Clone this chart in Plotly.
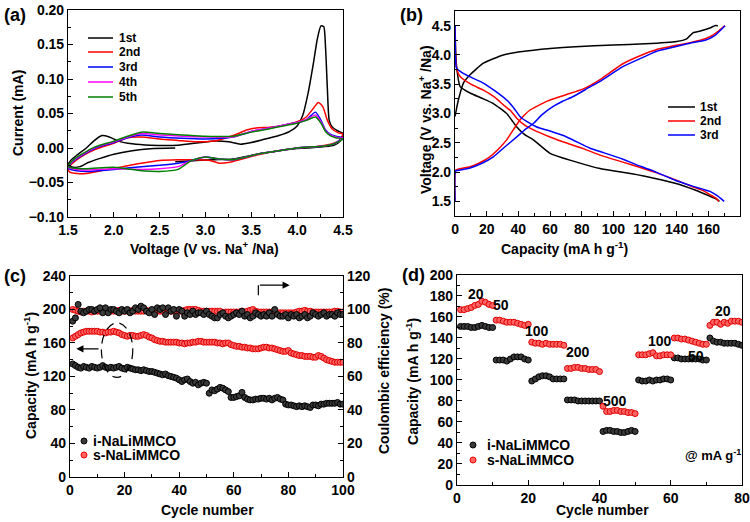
import plotly.graph_objects as go

FONT = "Liberation Sans, Arial, sans-serif"

# ---------------- (a) cyclic voltammetry ----------------
cv_labels = ["1st", "2nd", "3rd", "4th", "5th"]
cv_colors = ["#000000", "#ff0000", "#0000ff", "#ff00ff", "#008000"]

cv1_V = [2.67, 2.4, 2.2, 2.0, 1.85, 1.72, 1.63, 1.56, 1.5, 1.53, 1.6, 1.7, 1.78, 1.87, 1.95, 2.05, 2.2, 2.4, 2.7, 2.95,
         3.1, 3.25, 3.38, 3.5, 3.65, 3.8, 3.92, 4.0, 4.06, 4.12, 4.18, 4.22, 4.26, 4.29, 4.31, 4.33, 4.35, 4.38, 4.44,
         4.5, 4.47, 4.4, 4.3, 4.1, 3.9, 3.6, 3.3, 3.1, 2.9, 2.67]
cv1_I = [0.0, -0.001, -0.004, -0.009, -0.015, -0.021, -0.027, -0.028, -0.025, -0.018, -0.010, 0.000, 0.010, 0.018, 0.016,
         0.010, 0.006, 0.004, 0.004, 0.008, 0.010, 0.009, 0.0055, 0.008, 0.013, 0.018, 0.024, 0.032, 0.047, 0.080, 0.125,
         0.158, 0.177, 0.176, 0.145, 0.085, 0.040, 0.031, 0.025, 0.021, 0.010, 0.004, 0.002, 0.0, -0.002, -0.008,
         -0.016, -0.017, -0.018, -0.02]

cv2_V = [1.5, 1.55, 1.65, 1.8, 2.0, 2.15, 2.3, 2.5, 2.7, 2.9, 3.1, 3.3, 3.45, 3.55, 3.7, 3.85, 4.0, 4.1, 4.18, 4.23,
         4.28, 4.33, 4.38, 4.45, 4.5,
         4.45, 4.35, 4.2, 4.0, 3.8, 3.6, 3.4, 3.25, 3.15, 3.05, 2.9, 2.7, 2.5, 2.3, 2.1, 1.9, 1.7, 1.6, 1.52, 1.5]
cv2_I = [-0.030, -0.022, -0.012, -0.002, 0.007, 0.015, 0.016, 0.013, 0.011, 0.009, 0.010, 0.018, 0.026, 0.029, 0.030,
         0.033, 0.038, 0.045, 0.058, 0.066, 0.060, 0.040, 0.028, 0.022, 0.020,
         0.010, 0.005, 0.002, 0.000, -0.004, -0.009, -0.016, -0.021, -0.022, -0.018, -0.017, -0.017, -0.018, -0.022,
         -0.027, -0.032, -0.037, -0.037, -0.035, -0.030]

cvn_V = [1.5, 1.55, 1.65, 1.8, 2.0, 2.15, 2.3, 2.5, 2.75, 3.0, 3.3, 3.5, 3.7, 3.85, 4.0, 4.1, 4.2, 4.26, 4.31, 4.36,
         4.42, 4.5,
         4.4, 4.3, 4.0, 3.8, 3.6, 3.3, 3.1, 3.0, 2.85, 2.7, 2.5, 2.3, 2.0, 1.7, 1.55, 1.5]
cv3_I = [-0.029, -0.020, -0.011, 0.000, 0.008, 0.015, 0.019, 0.016, 0.014, 0.013, 0.016, 0.024, 0.029, 0.033, 0.037,
         0.041, 0.052, 0.040, 0.026, 0.020, 0.017, 0.015,
         0.006, 0.003, 0.000, -0.004, -0.008, -0.017, -0.015, -0.013, -0.018, -0.022, -0.025, -0.027, -0.031, -0.034,
         -0.032, -0.029]
cv4_I = [-0.028, -0.019, -0.010, 0.001, 0.009, 0.016, 0.021, 0.019, 0.017, 0.016, 0.016, 0.024, 0.029, 0.033, 0.037,
         0.041, 0.048, 0.038, 0.025, 0.019, 0.016, 0.014,
         0.006, 0.003, 0.000, -0.004, -0.008, -0.017, -0.015, -0.013, -0.018, -0.027, -0.030, -0.031, -0.030, -0.032,
         -0.030, -0.028]
cv5_I = [-0.027, -0.018, -0.009, 0.002, 0.010, 0.017, 0.023, 0.021, 0.019, 0.017, 0.017, 0.023, 0.028, 0.032, 0.036,
         0.040, 0.045, 0.036, 0.024, 0.018, 0.015, 0.013,
         0.006, 0.003, 0.000, -0.004, -0.008, -0.017, -0.015, -0.013, -0.018, -0.031, -0.034, -0.033, -0.028, -0.030,
         -0.029, -0.027]

# ---------------- (b) charge / discharge ----------------
gc_labels = ["1st", "2nd", "3rd"]
gc_colors = ["#000000", "#ff0000", "#0000ff"]

ch1_C = [0, 2.1, 5.3, 9.5, 17.9, 30.5, 40, 49.5, 60, 76, 100, 120, 140, 146, 148.4, 150.5, 155, 161, 164, 166]
ch1_V = [2.95, 3.23, 3.52, 3.66, 3.86, 4.0, 4.05, 4.08, 4.11, 4.14, 4.17, 4.19, 4.23, 4.27, 4.33, 4.38, 4.41, 4.46,
         4.5, 4.5]
dc1_C = [0, 0.5, 1.2, 3.2, 9.5, 17, 24.2, 32.6, 36, 39, 44, 49.5, 60, 76.8, 91.6, 105, 120, 139, 152, 160, 165, 167]
dc1_V = [4.5, 4.0, 3.75, 3.46, 3.35, 3.26, 3.17, 3.0, 2.88, 2.77, 2.64, 2.55, 2.32, 2.17, 2.06, 2.0, 1.93, 1.81, 1.69,
         1.6, 1.54, 1.5]

ch2_C = [0, 0.3, 2, 9.5, 15, 22, 27, 32.6, 37, 41, 44, 47.4, 55, 60, 70, 81, 91.6, 106, 118, 127, 139, 148.4, 155, 161,
         166, 170.5]
ch2_V = [1.5, 2.03, 2.05, 2.09, 2.15, 2.26, 2.38, 2.55, 2.73, 2.89, 2.98, 3.06, 3.17, 3.23, 3.32, 3.42, 3.58, 3.85,
         4.0, 4.09, 4.16, 4.21, 4.25, 4.31, 4.4, 4.5]
dc2_C = [0, 0.5, 1.5, 3.2, 10, 17.9, 25, 30.5, 35, 39, 44, 49.5, 60, 70, 81, 91.6, 106, 118, 127, 139, 150, 157, 162,
         165, 166.5]
dc2_V = [4.45, 3.9, 3.72, 3.63, 3.5, 3.4, 3.28, 3.15, 3.05, 2.92, 2.8, 2.72, 2.6, 2.5, 2.4, 2.29, 2.17, 2.07, 1.99,
         1.87, 1.75, 1.68, 1.6, 1.55, 1.5]

ch3_C = [0, 0.3, 2, 9.5, 17, 24.2, 31, 39, 44, 49.5, 55, 62, 68, 74.7, 85, 91.6, 106, 118, 127, 139, 148.4, 158, 164,
         170.5]
ch3_V = [1.5, 2.02, 2.03, 2.07, 2.15, 2.26, 2.42, 2.6, 2.72, 2.83, 2.98, 3.12, 3.21, 3.29, 3.45, 3.55, 3.8, 3.95, 4.06,
         4.14, 4.2, 4.25, 4.33, 4.5]
dc3_C = [0, 0.3, 1, 4.4, 10, 17.9, 25, 32.6, 37, 41, 45, 51.6, 60, 70.5, 85, 91.6, 106, 118, 127, 139, 150, 161, 166,
         170]
dc3_V = [4.5, 3.95, 3.77, 3.7, 3.62, 3.52, 3.39, 3.23, 3.1, 2.95, 2.87, 2.77, 2.7, 2.6, 2.41, 2.35, 2.22, 2.09, 2.0,
         1.86, 1.76, 1.67, 1.59, 1.5]

# ---------------- (c) cycling ----------------
cycles_c = list(range(1, 101))
cap_i = [135, 133, 131, 130, 132, 131, 130, 132, 131, 130,
         131, 133, 131, 130, 131, 130, 131, 132, 130, 129,
         131, 130, 129, 128, 128, 127, 128, 127, 126, 126,
         125, 124, 123, 122, 123, 121, 120, 119, 118, 116,
         114, 116, 117, 114, 112, 113, 110, 112, 113, 112,
         100, 104, 103, 105, 107, 106, 104, 102, 95, 95,
         96, 97, 101, 95, 93, 92, 92, 93, 93, 94,
         94, 93, 94, 92, 94, 95, 93, 92, 87, 86,
         86, 85, 84, 85, 84, 85, 84, 83, 86, 86,
         85, 87, 87, 88, 88, 88, 88, 89, 87, 87]
cap_s = [166, 168, 170, 172, 173, 174, 174, 174, 174, 174,
         173, 173, 172, 173, 173, 174, 173, 172, 170, 169,
         168, 169, 169, 168, 168, 169, 170, 169, 167, 166,
         164, 163, 162, 162, 161, 161, 161, 161, 161, 160,
         160, 159, 160, 160, 161, 161, 162, 162, 161, 161,
         161, 161, 161, 160, 160, 159, 160, 160, 158, 157,
         156, 156, 155, 155, 154, 154, 153, 153, 153, 154,
         155, 155, 154, 154, 153, 152, 151, 150, 150, 151,
         148, 147, 146, 145, 145, 144, 144, 144, 143, 143,
         145, 144, 142, 140, 139, 138, 137, 137, 137, 137]
ce_i = [93, 95, 103, 99, 98, 99, 100, 100, 99, 100,
        101, 98, 101, 98, 100, 100, 99, 98, 100, 99,
        100, 98, 99, 101, 100, 102, 101, 99, 98, 100,
        97, 101, 100, 101, 97, 101, 99, 100, 96, 100,
        99, 96, 98, 97, 99, 97, 98, 98, 97, 99,
        97, 96, 95, 95, 97, 98, 96, 95, 96, 97,
        98, 97, 99, 96, 97, 95, 96, 98, 97, 96,
        97, 96, 98, 96, 100, 97, 96, 96, 97, 95,
        97, 96, 97, 95, 96, 97, 95, 96, 98, 97,
        96, 97, 98, 96, 97, 97, 96, 98, 97, 97]
ce_s = [100, 99.5, 99, 98.5, 99, 99, 99, 98.5, 99, 99,
        99, 99, 99, 99.5, 99, 99, 99, 99.5, 99, 99,
        99, 99, 99.5, 99, 99, 99, 99, 99.5, 99, 99,
        99, 99, 99, 99, 99, 99, 99, 99, 99, 99,
        99, 99.5, 100, 100, 100, 100, 99.5, 99, 99, 99,
        99, 99, 99, 99, 99, 98, 98.5, 98.5, 98.5, 98.5,
        98.5, 98.5, 99, 98.5, 99, 99.5, 100, 99, 98.5, 98.5,
        98.5, 98.5, 98.5, 98.5, 98, 98, 98, 98, 98, 98,
        98, 98, 98.5, 99, 99, 99.5, 99, 99, 98.5, 98.5,
        98.5, 98.5, 98.5, 98.5, 98.5, 98.5, 99, 99, 98.5, 98.5]

# ---------------- (d) rate ----------------
cycles_d = list(range(1, 81))
rate_i = [151, 151, 151, 150, 150, 151, 152, 151, 150, 150,
          119, 119, 119, 118, 120, 122, 122, 122, 120, 119,
          99, 101, 103, 104, 104, 103, 101, 101, 101, 101,
          81, 81, 81, 80, 80, 80, 80, 80, 80, 80,
          51, 52, 52, 51, 51, 50, 50, 51, 52, 51,
          100, 99, 99, 100, 99, 100, 100, 101, 101, 100,
          121, 121, 120, 120, 120, 120, 120, 120, 119, 119,
          140, 137, 136, 136, 135, 135, 135, 135, 134, 133]
rate_s = [167, 167, 168, 169, 171, 172, 175, 174, 172, 171,
          157, 157, 156, 155, 155, 155, 154, 153, 152, 153,
          136, 135, 135, 134, 135, 134, 134, 134, 134, 133,
          111, 111, 112, 112, 111, 111, 110, 110, 110, 108,
          75, 70, 70, 71, 71, 70, 70, 69, 69, 68,
          124, 124, 124, 125, 126, 123, 123, 124, 124, 124,
          140, 140, 139, 139, 138, 137, 136, 135, 134, 134,
          152, 155, 155, 153, 155, 154, 156, 156, 156, 155]
rate_labels = ["20", "50", "100", "200", "500", "100", "50", "20"]
rate_lab_x = [5.3, 12.3, 22.5, 34, 44.4, 57, 67, 74.8]
rate_lab_y = [182, 171, 147, 127, 80, 137, 123, 166]

fig = go.Figure()

cv_V = [cv1_V, cv2_V, cvn_V, cvn_V, cvn_V]
cv_I = [cv1_I, cv2_I, cv3_I, cv4_I, cv5_I]
for V, I, c, n in zip(cv_V, cv_I, cv_colors, cv_labels):
    fig.add_trace(go.Scatter(x=V, y=I, mode="lines", name=n, line=dict(color=c, width=1.5, shape="spline", smoothing=0.6),
                             xaxis="x", yaxis="y", showlegend=False))

for C, V, c in [(ch1_C, ch1_V, gc_colors[0]), (dc1_C, dc1_V, gc_colors[0]),
                (ch2_C, ch2_V, gc_colors[1]), (dc2_C, dc2_V, gc_colors[1]),
                (ch3_C, ch3_V, gc_colors[2]), (dc3_C, dc3_V, gc_colors[2])]:
    fig.add_trace(go.Scatter(x=C, y=V, mode="lines", line=dict(color=c, width=1.5, shape="spline", smoothing=0.5),
                             xaxis="x2", yaxis="y2", showlegend=False))

BLK = dict(color="#3a3a3a", size=6, line=dict(color="#000000", width=1))
RED = dict(color="#ff6464", size=6, line=dict(color="#e00000", width=1))

fig.add_trace(go.Scatter(x=cycles_c, y=ce_s, mode="markers", marker=RED, xaxis="x3", yaxis="y5", showlegend=False))
fig.add_trace(go.Scatter(x=cycles_c, y=ce_i, mode="markers", marker=BLK, xaxis="x3", yaxis="y5", showlegend=False))
fig.add_trace(go.Scatter(x=cycles_c, y=cap_s, mode="markers", marker=RED, xaxis="x3", yaxis="y3", showlegend=False))
fig.add_trace(go.Scatter(x=cycles_c, y=cap_i, mode="markers", marker=BLK, xaxis="x3", yaxis="y3", showlegend=False))

fig.add_trace(go.Scatter(x=cycles_d, y=rate_i, mode="markers", marker=BLK, xaxis="x4", yaxis="y4", showlegend=False))
fig.add_trace(go.Scatter(x=cycles_d, y=rate_s, mode="markers", marker=RED, xaxis="x4", yaxis="y4", showlegend=False))

TICKF = dict(family=FONT, size=14, color="black", weight="bold")


def ax(domain, rng, dtick, minor_dtick, anchor, **kw):
    d = dict(domain=domain, range=rng, dtick=dtick, tick0=0, ticks="inside", ticklen=5, tickwidth=1,
             tickcolor="black", showline=True, linecolor="black", linewidth=1.2, mirror=True,
             showgrid=False, zeroline=False, tickfont=TICKF, anchor=anchor, automargin=False,
             minor=dict(dtick=minor_dtick, ticks="inside", ticklen=3, tickcolor="black", showgrid=False))
    d.update(kw)
    return d


fig.update_layout(
    width=750, height=522, margin=dict(l=0, r=0, t=0, b=0, autoexpand=False),
    paper_bgcolor="white", plot_bgcolor="white", font=dict(family=FONT, color="black"),
    showlegend=False,
    xaxis=ax([0.0907, 0.4573], [1.5, 4.5], 0.5, 0.25, "y", tick0=1.5, tickformat=".1f"),
    yaxis=ax([0.5843, 0.9808], [-0.10, 0.20], 0.05, 0.025, "x", tickformat=".2f"),
    xaxis2=ax([0.6067, 0.9867], [0, 180], 20, 10, "y2"),
    yaxis2=ax([0.5862, 0.9789], [1.25, 4.75], 0.5, 0.25, "x2", tick0=1.5, tickformat=".1f"),
    xaxis3=ax([0.0933, 0.4573], [0, 100], 20, 10, "y3"),
    yaxis3=ax([0.0862, 0.4713], [0, 240], 40, 20, "x3", mirror=False),
    yaxis5=ax([0.0862, 0.4713], [0, 120], 20, 10, "x3", overlaying="y3", side="right", mirror=False),
    xaxis4=ax([0.6093, 0.9893], [0, 80], 20, 10, "y4"),
    yaxis4=ax([0.0709, 0.4732], [0, 200], 20, 10, "x4"),
)

ann = []


def T(text, x, y, size=14, angle=0, xanchor="center", xref="paper", yref="paper"):
    ann.append(dict(text="<b>" + text + "</b>", x=x, y=y, xref=xref, yref=yref, showarrow=False,
                    font=dict(family=FONT, size=size, color="black"), textangle=angle,
                    xanchor=xanchor, yanchor="middle"))


# panel labels
T("(a)", 0.002, 0.9713, 18, xanchor="left")
T("(b)", 0.5307, 0.9713, 18, xanchor="left")
T("(c)", 0.002, 0.4713, 18, xanchor="left")
T("(d)", 0.5333, 0.4732, 18, xanchor="left")
# axis titles
T("Current (mA)", 0.024, 0.7835, 14, -90)
T("Voltage (V vs. Na<sup>+</sup> /Na)", 0.2733, 0.5249, 14)
T("Voltage (V vs. Na<sup>+</sup> /Na)", 0.5667, 0.770, 14, -90)
T("Capacity (mA h g<sup>-1</sup>)", 0.7533, 0.5249, 14)
T("Capacity (mA h g<sup>-1</sup>)", 0.04, 0.2797, 14, -90)
T("Coulombic efficiency (%)", 0.512, 0.2893, 14, -90)
T("Cycle number", 0.276, 0.0230, 14)
T("Capacity (mA h g<sup>-1</sup>)", 0.5493, 0.2701, 14, -90)
T("Cycle number", 0.8027, 0.0230, 14)

# (d) current-density labels
for lab, lx, ly in zip(rate_labels, rate_lab_x, rate_lab_y):
    T(lab, lx, ly, 14, xref="x4", yref="y4")
T("@ mA g<sup>-1</sup>", 72.0, 29, 13, xref="x4", yref="y4")

shapes = []
# legend (a)
leg_a_y = [38, 52, 67, 82, 97]
for lab, col, py in zip(cv_labels, cv_colors, leg_a_y):
    yy = 1 - py / 522
    shapes.append(dict(type="line", xref="paper", yref="paper", x0=88 / 750, x1=113 / 750, y0=yy, y1=yy,
                       line=dict(color=col, width=1.5)))
    T(lab, 117 / 750, yy, 12, xanchor="left")
# legend (b)
leg_b_y = [107, 121, 135]
for lab, col, py in zip(gc_labels, gc_colors, leg_b_y):
    yy = 1 - py / 522
    shapes.append(dict(type="line", xref="paper", yref="paper", x0=668 / 750, x1=695 / 750, y0=yy, y1=yy,
                       line=dict(color=col, width=1.5)))
    T(lab, 698 / 750, yy, 12, xanchor="left")


def legmark(px, py, m):
    shapes.append(dict(type="circle", xref="paper", yref="paper", x0=(px - 3) / 750, x1=(px + 3) / 750,
                       y0=1 - (py + 3) / 522, y1=1 - (py - 3) / 522, fillcolor=m["color"],
                       line=dict(color=m["line"]["color"], width=1)))


legmark(84, 441, BLK); T("i-NaLiMMCO", 91 / 750, 1 - 441 / 522, 14, xanchor="left")
legmark(84, 455, RED); T("s-NaLiMMCO", 91 / 750, 1 - 455 / 522, 14, xanchor="left")
legmark(473, 445, BLK); T("i-NaLiMMCO", 485 / 750, 1 - 445 / 522, 14, xanchor="left")
legmark(473, 460, RED); T("s-NaLiMMCO", 485 / 750, 1 - 460 / 522, 14, xanchor="left")

# (c) decorations: dashed ellipse and arrows
shapes.append(dict(type="circle", xref="x3", yref="y3", x0=11.5, x1=23, y0=119, y1=184,
                   line=dict(color="black", width=1.2, dash="9px,6px")))
ann.append(dict(x=2.3, y=153, ax=11, ay=153, xref="x3", yref="y3", axref="x3", ayref="y3", text="",
                showarrow=True, arrowhead=2, arrowsize=1.2, arrowwidth=1.2, arrowcolor="black"))
shapes.append(dict(type="line", xref="x3", yref="y3", x0=69, x1=69, y0=217, y1=229,
                   line=dict(color="black", width=1.2)))
ann.append(dict(x=80.5, y=229, ax=69, ay=229, xref="x3", yref="y3", axref="x3", ayref="y3", text="",
                showarrow=True, arrowhead=2, arrowsize=1.2, arrowwidth=1.2, arrowcolor="black"))

fig.update_layout(annotations=ann, shapes=shapes)
fig.write_html("out.html", config={"displayModeBar": False},
               post_script="document.body.style.margin='0px';document.body.style.overflow='hidden';")
